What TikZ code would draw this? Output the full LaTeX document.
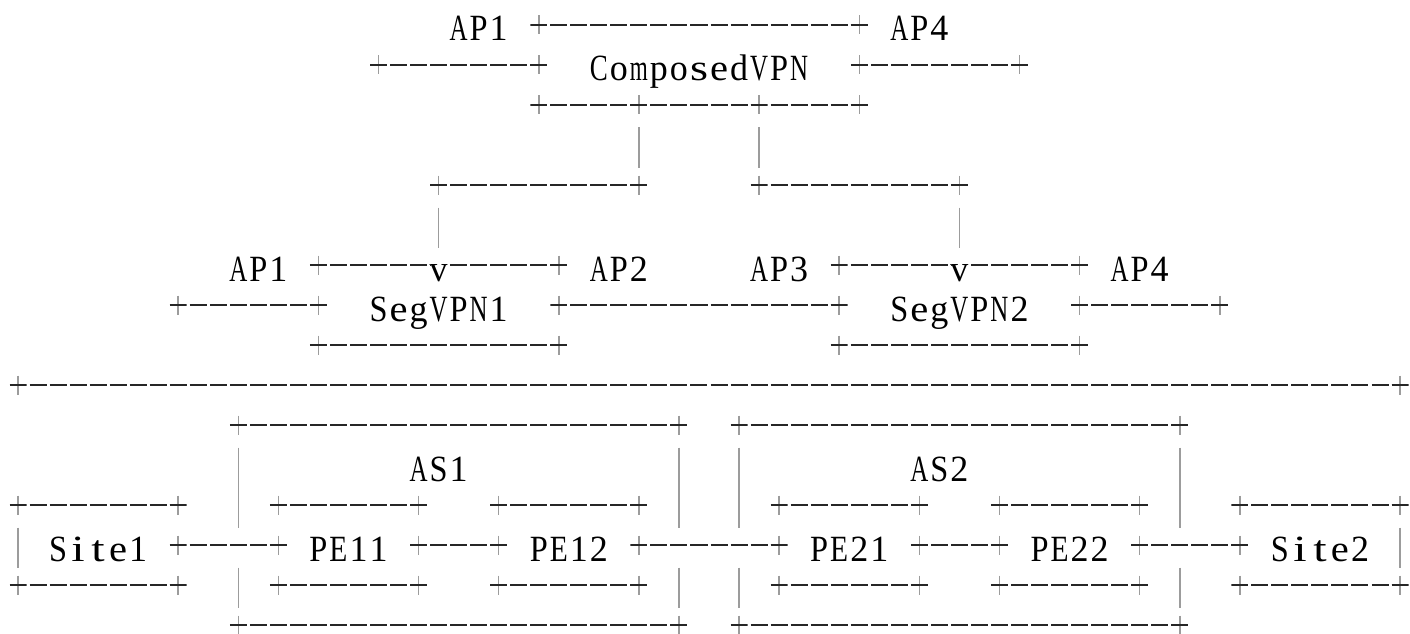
\documentclass[tikz,border=0pt]{standalone}
\usepackage{graphicx}
\usepackage{fontspec}
\newfontfamily\simfont{Liberation Serif}
\definecolor{dashcol}{HTML}{262626}
\definecolor{barcol}{HTML}{9C9C9C}
\tikzset{
  pl/.style={rectangle, inner sep=0pt, outer sep=0pt, minimum width=17pt, minimum height=19pt,
    path picture={
      \draw[barcol, line width=1.5pt] (path picture bounding box.north) -- (path picture bounding box.south);
      \draw[dashcol, line width=2.4pt] (path picture bounding box.west) -- (path picture bounding box.east);}},
  cellbox/.style={rectangle, inner sep=0pt, outer sep=0pt, minimum width=17pt, minimum height=19pt},
  dashrun/.style={dashcol, line width=2.4pt, dash pattern=on 17pt off 3.03pt, dash phase=17.03pt},
  vbar/.style={barcol, line width=1.5pt},
  txt/.style={anchor=base west, inner sep=0pt, outer sep=0pt, yshift=-16pt, text=black,
    font=\fontsize{37}{37}\selectfont\simfont},
}
\newlength\monow
\makeatletter
\newcommand{\mono}[1]{\@tfor\monoch:=#1\do{%
  \settowidth\monow{\monoch}%
  \pgfmathsetmacro\monos{min(1.3,18/\monow)}%
  \makebox[20.03pt][c]{\scalebox{\monos}[1]{\monoch}}}}
\makeatother
\begin{document}
\begin{tikzpicture}[x=20.03pt, y=-40pt]
\useasboundingbox (-0.89865,-0.625) rectangle (69.4958,15.225);
% plus corners
\foreach \r/\cs in {0/{26,42}, 1/{18,26,42,50}, 2/{26,31,37,42}, 4/{21,31,37,47},
  6/{15,27,41,53}, 7/{8,15,27,41,53,60}, 8/{15,27,41,53}, 9/{0,69}, 10/{11,33,36,58},
  12/{0,8,13,20,24,31,38,45,49,56,61,69}, 13/{8,13,20,24,31,38,45,49,56,61},
  14/{0,8,13,20,24,31,38,45,49,56,61,69}, 15/{11,33,36,58}}
  {\foreach \c in \cs {\node[pl] (p\r-\c) at (\c,\r) {};}}
% arrow heads "v"
\node[cellbox] (v1) at (21,6) {};
\node[cellbox] (v2) at (47,6) {};
\node[txt] (v1t) at (20.5,6) {\mono{v}};
\node[txt] (v2t) at (46.5,6) {\mono{v}};
% crossings of box sides with links
\foreach \c in {11,33,36,58} {\coordinate (x13-\c) at (\c,13);}
% labels
\node[txt] (ap1a) at (21.5,0) {\mono{AP1}};
\node[txt] (ap4a) at (43.5,0) {\mono{AP4}};
\node[txt] (cvpn) at (28.5,1) {\mono{ComposedVPN}};
\node[txt] (ap1b) at (10.5,6) {\mono{AP1}};
\node[txt] (ap2b) at (28.5,6) {\mono{AP2}};
\node[txt] (ap3b) at (36.5,6) {\mono{AP3}};
\node[txt] (ap4b) at (54.5,6) {\mono{AP4}};
\node[txt] (seg1) at (17.5,7) {\mono{SegVPN1}};
\node[txt] (seg2) at (43.5,7) {\mono{SegVPN2}};
\node[txt] (as1) at (19.5,11) {\mono{AS1}};
\node[txt] (as2) at (44.5,11) {\mono{AS2}};
\node[txt] (site1) at (1.5,13) {\mono{Site1}};
\node[txt] (pe11) at (14.5,13) {\mono{PE11}};
\node[txt] (pe12) at (25.5,13) {\mono{PE12}};
\node[txt] (pe21) at (39.5,13) {\mono{PE21}};
\node[txt] (pe22) at (50.5,13) {\mono{PE22}};
\node[txt] (site2) at (62.5,13) {\mono{Site2}};
% horizontal dashed runs
\foreach \a/\b in {p0-26/p0-42, p1-18/p1-26, p1-42/p1-50,
  p2-26/p2-31, p2-31/p2-37, p2-37/p2-42, p4-21/p4-31, p4-37/p4-47,
  p6-15/v1, v1/p6-27, p6-41/v2, v2/p6-53,
  p7-8/p7-15, p7-27/p7-41, p7-53/p7-60, p8-15/p8-27, p8-41/p8-53,
  p9-0/p9-69, p10-11/p10-33, p10-36/p10-58, p15-11/p15-33, p15-36/p15-58,
  p12-0/p12-8, p12-13/p12-20, p12-24/p12-31, p12-38/p12-45, p12-49/p12-56, p12-61/p12-69,
  p14-0/p14-8, p14-13/p14-20, p14-24/p14-31, p14-38/p14-45, p14-49/p14-56, p14-61/p14-69,
  p13-8/p13-13, p13-20/p13-24, p13-31/p13-38, p13-45/p13-49, p13-56/p13-61}
  {\draw[dashrun] (\a) -- (\b);}
% vertical bars
\foreach \a/\b in {p2-31/p4-31, p2-37/p4-37, p4-21/v1, p4-47/v2,
  p12-0/p14-0, p12-69/p14-69,
  p10-11/x13-11, x13-11/p15-11, p10-33/x13-33, x13-33/p15-33,
  p10-36/x13-36, x13-36/p15-36, p10-58/x13-58, x13-58/p15-58}
  {\draw[vbar] ([yshift=-22.5pt]\a.center) -- ([yshift=17.5pt]\b.center);}
\end{tikzpicture}
\end{document}
